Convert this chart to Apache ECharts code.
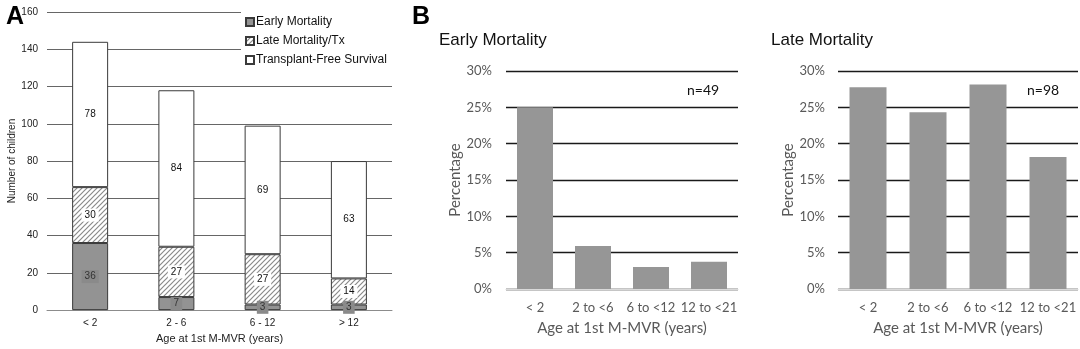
<!DOCTYPE html>
<html>
<head>
<meta charset="utf-8">
<title>Outcomes by age at first M-MVR</title>
<script src="https://cdn.jsdelivr.net/npm/echarts@6/dist/echarts.min.js"></script>
<style>
  html, body { margin: 0; padding: 0; background: #fff; }
  #chart { width: 1080px; height: 349px; }
</style>
</head>
<body>
<div id="chart"></div>
<script>
// Panel A: number of children by age group, stacked by outcome
const ageGroupsA = ['< 2', '2 - 6', '6 - 12', '> 12'];
const earlyMortality = [36, 7, 3, 3];
const lateMortality = [30, 27, 27, 14];
const transplantFree = [78, 84, 69, 63];
const countTicks = { min: 0, max: 160, interval: 20 };

// Panel B: mortality percentages by age group
const ageGroupsB = ['< 2', '2 to <6', '6 to <12', '12 to <21'];
const earlyPct = [25.0, 5.93, 3.03, 3.75];   // n=49
const latePct = [27.78, 24.32, 28.13, 18.18]; // n=98
const pctTicks = { min: 0, max: 30, interval: 5 };

// diagonal hatch fill for the late mortality segments
function hatchPattern() {
  const c = document.createElement('canvas');
  const s = 5;
  c.width = s; c.height = s;
  const g = c.getContext('2d');
  g.fillStyle = '#ffffff';
  g.fillRect(0, 0, s, s);
  g.strokeStyle = '#8a8a8a';
  g.lineWidth = 1.2;
  g.beginPath();
  g.moveTo(-1, s + 1); g.lineTo(s + 1, -1);
  g.moveTo(-1, 1); g.lineTo(1, -1);
  g.moveTo(s - 1, s + 1); g.lineTo(s + 1, s - 1);
  g.stroke();
  return { image: c, repeat: 'repeat' };
}

const arial = 'Liberation Sans, Arial, sans-serif';
const calibriLike = 'Lato, Open Sans, sans-serif';

const chart = echarts.init(document.getElementById('chart'), null, { renderer: 'canvas' });

const labelBase = { show: true, position: 'inside', fontFamily: arial, fontSize: 10, color: '#222' };

chart.setOption({
  animation: false,
  backgroundColor: '#ffffff',
  title: [
    { text: 'A', left: 1, top: 0, textStyle: { fontFamily: arial, fontWeight: 'bold', fontSize: 25, color: '#000' } },
    { text: 'B', left: 407, top: 0, textStyle: { fontFamily: arial, fontWeight: 'bold', fontSize: 25, color: '#000' } },
    { text: 'Early Mortality', left: 434, top: 27, textStyle: { fontFamily: arial, fontWeight: 'normal', fontSize: 17, color: '#111' } },
    { text: 'Late Mortality', left: 766, top: 27, textStyle: { fontFamily: arial, fontWeight: 'normal', fontSize: 17, color: '#111' } }
  ],
  legend: {
    orient: 'vertical',
    left: 241,
    top: 12,
    icon: 'rect',
    itemWidth: 8,
    itemHeight: 8,
    itemGap: 7,
    padding: [4, 10, 4, 4],
    backgroundColor: '#ffffff',
    textStyle: { fontFamily: arial, fontSize: 12, color: '#111', padding: [0, 0, 0, -3] },
    data: ['Early Mortality', 'Late Mortality/Tx', 'Transplant-Free Survival']
  },
  grid: [
    { left: 47, right: 688, top: 12, bottom: 34 },
    { left: 506, right: 342, top: 71, bottom: 60 },
    { left: 838, right: 2, top: 71, bottom: 60 }
  ],
  xAxis: [
    {
      gridIndex: 0, type: 'category', data: ageGroupsA,
      name: 'Age at 1st M-MVR (years)', nameLocation: 'middle', nameGap: 21,
      nameTextStyle: { fontFamily: arial, fontSize: 11, color: '#222' },
      axisLine: { lineStyle: { color: '#8c8c8c', width: 1 } },
      axisTick: { show: false },
      axisLabel: { fontFamily: arial, fontSize: 10, color: '#222', margin: 8 }
    },
    {
      gridIndex: 1, type: 'category', data: ageGroupsB,
      name: 'Age at 1st M-MVR (years)', nameLocation: 'middle', nameGap: 32,
      nameTextStyle: { fontFamily: calibriLike, fontSize: 15, color: '#595959' },
      axisLine: { lineStyle: { color: '#d9d9d9', width: 1 } },
      axisTick: { show: false },
      axisLabel: { fontFamily: calibriLike, fontSize: 13, color: '#595959', margin: 12, interval: 0 }
    },
    {
      gridIndex: 2, type: 'category', data: ageGroupsB,
      name: 'Age at 1st M-MVR (years)', nameLocation: 'middle', nameGap: 32,
      nameTextStyle: { fontFamily: calibriLike, fontSize: 15, color: '#595959' },
      axisLine: { lineStyle: { color: '#d9d9d9', width: 1 } },
      axisTick: { show: false },
      axisLabel: { fontFamily: calibriLike, fontSize: 13, color: '#595959', margin: 12, interval: 0 }
    }
  ],
  yAxis: [
    {
      gridIndex: 0, type: 'value', min: countTicks.min, max: countTicks.max, interval: countTicks.interval,
      name: 'Number of children', nameLocation: 'middle', nameGap: 30,
      nameTextStyle: { fontFamily: arial, fontSize: 10, color: '#222' },
      axisLine: { show: false }, axisTick: { show: false },
      axisLabel: { fontFamily: arial, fontSize: 10, color: '#222', margin: 9 },
      splitLine: { lineStyle: { color: '#666666', width: 1 } }
    },
    {
      gridIndex: 1, type: 'value', min: pctTicks.min, max: pctTicks.max, interval: pctTicks.interval,
      name: 'Percentage', nameLocation: 'middle', nameGap: 43,
      nameTextStyle: { fontFamily: calibriLike, fontSize: 15, color: '#595959' },
      axisLine: { show: false }, axisTick: { show: false },
      axisLabel: { fontFamily: calibriLike, fontSize: 13, color: '#595959', margin: 14, formatter: '{value}%' },
      splitLine: { lineStyle: { color: '#1a1a1a', width: 1.4 } }
    },
    {
      gridIndex: 2, type: 'value', min: pctTicks.min, max: pctTicks.max, interval: pctTicks.interval,
      name: 'Percentage', nameLocation: 'middle', nameGap: 42,
      nameTextStyle: { fontFamily: calibriLike, fontSize: 15, color: '#595959' },
      axisLine: { show: false }, axisTick: { show: false },
      axisLabel: { fontFamily: calibriLike, fontSize: 13, color: '#595959', margin: 13, formatter: '{value}%' },
      splitLine: { lineStyle: { color: '#1a1a1a', width: 1.4 } }
    }
  ],
  graphic: [
    { type: 'text', left: 687, top: 83, style: { text: 'n=49', font: '14px Lato, Open Sans, sans-serif', fill: '#111' } },
    { type: 'text', left: 1027, top: 83, style: { text: 'n=98', font: '14px Lato, Open Sans, sans-serif', fill: '#111' } }
  ],
  series: [
    {
      name: 'Early Mortality', type: 'bar', stack: 'count', xAxisIndex: 0, yAxisIndex: 0,
      data: earlyMortality, barWidth: 36,
      itemStyle: { color: '#939393', borderColor: '#3a3a3a', borderWidth: 1 },
      label: Object.assign({}, labelBase, { backgroundColor: '#8a8a8a', padding: [2, 3, 1, 3], color: '#333' })
    },
    {
      name: 'Late Mortality/Tx', type: 'bar', stack: 'count', xAxisIndex: 0, yAxisIndex: 0,
      data: lateMortality, barWidth: 36,
      itemStyle: { color: hatchPattern(), borderColor: '#3a3a3a', borderWidth: 1 },
      label: Object.assign({}, labelBase, { backgroundColor: '#ffffff', padding: [2, 3, 1, 3], color: '#111' })
    },
    {
      name: 'Transplant-Free Survival', type: 'bar', stack: 'count', xAxisIndex: 0, yAxisIndex: 0,
      data: transplantFree, barWidth: 36,
      itemStyle: { color: '#ffffff', borderColor: '#3a3a3a', borderWidth: 1 },
      label: Object.assign({}, labelBase, { color: '#111' })
    },
    {
      name: 'Early Mortality %', type: 'bar', xAxisIndex: 1, yAxisIndex: 1,
      data: earlyPct, barWidth: 36,
      itemStyle: { color: '#969696' }
    },
    {
      name: 'Late Mortality %', type: 'bar', xAxisIndex: 2, yAxisIndex: 2,
      data: latePct, barWidth: 37,
      itemStyle: { color: '#969696' }
    }
  ]
});
</script>
</body>
</html>
